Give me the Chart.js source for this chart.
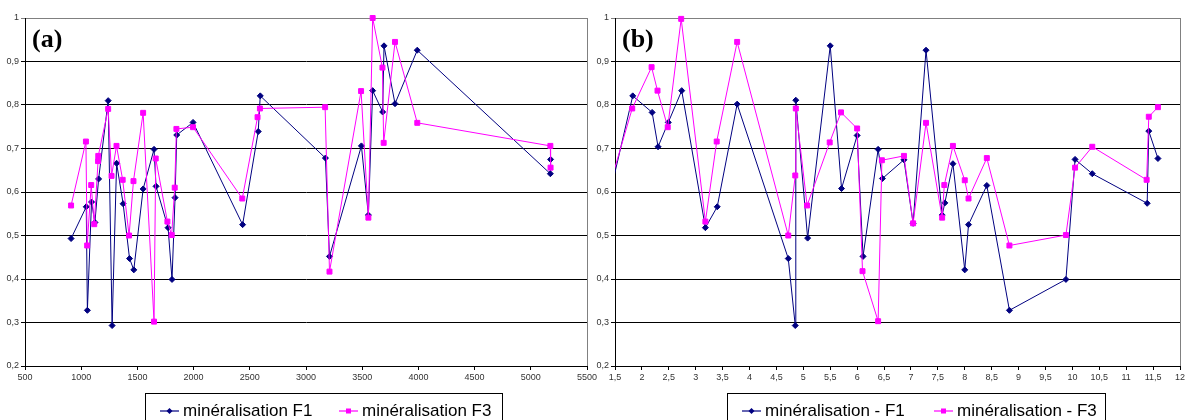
<!DOCTYPE html>
<html lang="fr">
<head>
<meta charset="utf-8">
<title>minéralisation F1 / F3</title>
<script src="https://cdn.jsdelivr.net/npm/chart.js@4.4.1/dist/chart.umd.min.js"></script>
<style>
    html, body { margin: 0; padding: 0; background: #fff; overflow: hidden; }
    #page { position: relative; width: 1185px; height: 420px; overflow: hidden; }
    #page canvas { position: absolute; left: 0; top: 0; }
    .legend-box { position: absolute; top: 393px; height: 40px; border: 1px solid #000; box-sizing: border-box; }
    .legend-item { position: absolute; top: 401px; height: 20px; line-height: 20px; white-space: nowrap;
        font-family: "Liberation Sans", Arial, sans-serif; font-size: 17px; color: #000; }
    .legend-item svg { vertical-align: top; margin-top: 4px; margin-right: 4px; }
</style>
</head>
<body>
<div id="page">
    <canvas id="chartA" width="1185" height="420"></canvas>
    <canvas id="chartB" width="1185" height="420"></canvas>

    <div class="legend-box" style="left:145px; width:358px;"></div>
    <div class="legend-item" style="left:160px;">
        <svg width="19" height="12"><line x1="0" y1="6" x2="19" y2="6" stroke="#000080" stroke-width="1.2"/><polygon points="9.5,3 12.5,6 9.5,9 6.5,6" fill="#000080"/></svg>minéralisation F1
    </div>
    <div class="legend-item" style="left:339px;">
        <svg width="19" height="12"><line x1="0" y1="6" x2="19" y2="6" stroke="#ff00ff" stroke-width="1.2"/><rect x="7" y="3.5" width="5" height="5" fill="#ff00ff"/></svg>minéralisation F3
    </div>

    <div class="legend-box" style="left:727px; width:379px;"></div>
    <div class="legend-item" style="left:742px;">
        <svg width="19" height="12"><line x1="0" y1="6" x2="19" y2="6" stroke="#000080" stroke-width="1.2"/><polygon points="9.5,3 12.5,6 9.5,9 6.5,6" fill="#000080"/></svg>minéralisation - F1
    </div>
    <div class="legend-item" style="left:934px;">
        <svg width="19" height="12"><line x1="0" y1="6" x2="19" y2="6" stroke="#ff00ff" stroke-width="1.2"/><rect x="7" y="3.5" width="5" height="5" fill="#ff00ff"/></svg>minéralisation - F3
    </div>
</div>

<script>
// --- données ---
// (a) abscisse 500 - 5500
const xA_F1 = [910, 1045, 1055, 1092, 1122, 1155, 1240, 1275, 1315, 1373, 1430, 1468, 1551, 1648, 1666, 1773, 1808, 1835, 1850, 1995,
    2436, 2575, 2593, 3173, 3209, 3493, 3555, 3593, 3682, 3694, 3792, 3990, 5174, 5176];
const yA_F1 = [0.493, 0.566, 0.328, 0.577, 0.530, 0.630, 0.810, 0.293, 0.666, 0.573, 0.447, 0.421, 0.607, 0.698, 0.613, 0.518, 0.399, 0.587, 0.731, 0.760,
    0.525, 0.739, 0.821, 0.678, 0.452, 0.706, 0.547, 0.833, 0.784, 0.936, 0.803, 0.926, 0.642, 0.675];

const xA_F3 = [910, 1042, 1053, 1089, 1116, 1150, 1152, 1240, 1270, 1314, 1369, 1426, 1465, 1551, 1648, 1663, 1767, 1805, 1832, 1847, 1995,
    2433, 2569, 2590, 3170, 3209, 3490, 3555, 3593, 3680, 3691, 3792, 3990, 5174, 5176];
const yA_F3 = [0.569, 0.716, 0.477, 0.616, 0.526, 0.671, 0.683, 0.791, 0.637, 0.706, 0.628, 0.500, 0.625, 0.782, 0.302, 0.677, 0.532, 0.501, 0.610, 0.745, 0.749,
    0.585, 0.772, 0.792, 0.795, 0.417, 0.832, 0.541, 1.000, 0.886, 0.713, 0.945, 0.759, 0.706, 0.656];

// (b) abscisse 1,5 - 12
const xB_F1 = [1.39, 1.83, 2.19, 2.30, 2.49, 2.74, 3.18, 3.40, 3.77, 4.72, 4.85, 4.86, 5.08, 5.50, 5.71, 6.00, 6.11, 6.39, 6.47, 6.87,
    7.04, 7.28, 7.58, 7.63, 7.78, 8.00, 8.07, 8.41, 8.83, 9.88, 10.05, 10.37, 11.39, 11.42, 11.59];
const yB_F1 = [0.587, 0.821, 0.783, 0.704, 0.760, 0.833, 0.518, 0.566, 0.802, 0.447, 0.293, 0.811, 0.494, 0.936, 0.608, 0.730, 0.452, 0.698, 0.631, 0.674,
    0.528, 0.926, 0.547, 0.575, 0.665, 0.421, 0.525, 0.615, 0.328, 0.399, 0.675, 0.642, 0.574, 0.740, 0.677];

const xB_F3 = [1.39, 1.82, 2.18, 2.29, 2.48, 2.73, 3.18, 3.39, 3.77, 4.72, 4.85, 4.86, 5.07, 5.49, 5.70, 6.00, 6.10, 6.39, 6.46, 6.87,
    7.04, 7.28, 7.58, 7.62, 7.78, 8.00, 8.07, 8.41, 8.83, 9.88, 10.05, 10.37, 11.38, 11.42, 11.59];
const yB_F3 = [0.610, 0.792, 0.887, 0.833, 0.749, 0.998, 0.532, 0.716, 0.945, 0.500, 0.638, 0.792, 0.569, 0.714, 0.783, 0.746, 0.418, 0.303, 0.673, 0.683,
    0.528, 0.759, 0.541, 0.616, 0.706, 0.627, 0.585, 0.678, 0.477, 0.501, 0.656, 0.704, 0.628, 0.773, 0.795];

// axes
const yMin = 0.2, yMax = 1, yStep = 0.1;
const xA_min = 500, xA_max = 5500, xA_step = 500;
const xB_min = 1.5, xB_max = 12, xB_step = 0.5;

const NAVY = '#000080';
const MAGENTA = '#ff00ff';

function toPoints(xs, ys) {
    return xs.map((x, i) => ({ x: x, y: ys[i] }));
}

function frNumber(v) {
    return String(+v.toFixed(2)).replace('.', ',');
}

// cadre gris de la zone de tracé + étiquette (a)/(b)
const framePlugin = {
    id: 'frame',
    beforeDraw(chart) {
        const a = chart.chartArea;
        const ctx = chart.ctx;
        ctx.save();
        ctx.strokeStyle = '#808080';
        ctx.lineWidth = 1;
        ctx.strokeRect(Math.round(a.left) + 0.5, Math.round(a.top) + 0.5, Math.round(a.right - a.left), Math.round(a.bottom - a.top));
        ctx.restore();
    },
    afterDraw(chart, args, opts) {
        const ctx = chart.ctx;
        ctx.save();
        ctx.font = 'bold 26px "Liberation Serif", "Times New Roman", serif';
        ctx.fillStyle = '#000';
        ctx.textBaseline = 'alphabetic';
        ctx.fillText(opts.label, chart.chartArea.left + 7, 47);
        ctx.restore();
    }
};

function makeChart(id, cfg) {
    const tickFont = { family: '"Liberation Sans", Arial, sans-serif', size: 9 };
    return new Chart(document.getElementById(id), {
        type: 'scatter',
        data: {
            datasets: [
                {
                    label: cfg.names[0], data: cfg.f1, order: 1,
                    showLine: true, borderColor: NAVY, backgroundColor: NAVY, borderWidth: 1,
                    pointStyle: 'rectRot', pointRadius: 3, pointBorderWidth: 1,
                    pointBackgroundColor: NAVY, pointBorderColor: NAVY,
                    clip: { left: 0, top: 6, right: 6, bottom: 6 }
                },
                {
                    label: cfg.names[1], data: cfg.f3, order: 0,
                    showLine: true, borderColor: MAGENTA, backgroundColor: MAGENTA, borderWidth: 1,
                    pointStyle: 'rect', pointRadius: 3.5, pointBorderWidth: 1,
                    pointBackgroundColor: MAGENTA, pointBorderColor: MAGENTA,
                    clip: { left: 0, top: 6, right: 6, bottom: 6 }
                }
            ]
        },
        options: {
            responsive: false,
            animation: false,
            devicePixelRatio: 1,
            layout: { padding: cfg.padding },
            plugins: {
                legend: { display: false },
                tooltip: { enabled: false },
                frame: { label: cfg.label }
            },
            scales: {
                x: {
                    type: 'linear',
                    min: cfg.xMin, max: cfg.xMax,
                    grid: { drawOnChartArea: false, drawTicks: true, tickLength: 4, color: '#000' },
                    border: { color: '#000', width: 1 },
                    ticks: {
                        stepSize: cfg.xStep, autoSkip: false, maxRotation: 0, padding: 2,
                        color: '#333', font: tickFont,
                        callback: v => frNumber(v)
                    },
                    afterFit(s) { s.height = 20; s.paddingLeft = 0; s.paddingRight = 0; }
                },
                y: {
                    min: yMin, max: yMax,
                    grid: {
                        tickLength: 4,
                        color: ctx => (ctx.tick && ctx.tick.value >= 0.999 ? '#808080' : '#000')
                    },
                    border: { color: '#000', width: 1 },
                    ticks: {
                        stepSize: yStep, padding: 2, color: '#333', font: tickFont,
                        callback: v => frNumber(v)
                    },
                    afterFit(s) { s.width = 25; s.paddingTop = 0; s.paddingBottom = 0; }
                }
            }
        },
        plugins: [framePlugin]
    });
}

window.initChart = function() {
    if (typeof Chart === 'undefined') {
        console.warn("Chart.js non chargé.");
        return;
    }
    makeChart('chartA', {
        label: '(a)',
        names: ['minéralisation F1', 'minéralisation F3'],
        f1: toPoints(xA_F1, yA_F1),
        f3: toPoints(xA_F3, yA_F3),
        xMin: xA_min, xMax: xA_max, xStep: xA_step,
        padding: { left: 0, top: 18, right: 1185 - 587, bottom: 34 }
    });
    makeChart('chartB', {
        label: '(b)',
        names: ['minéralisation - F1', 'minéralisation - F3'],
        f1: toPoints(xB_F1, yB_F1),
        f3: toPoints(xB_F3, yB_F3),
        xMin: xB_min, xMax: xB_max, xStep: xB_step,
        padding: { left: 590, top: 18, right: 5, bottom: 34 }
    });
};

document.addEventListener('DOMContentLoaded', () => {
    window.initChart();
});
</script>
</body>
</html>
